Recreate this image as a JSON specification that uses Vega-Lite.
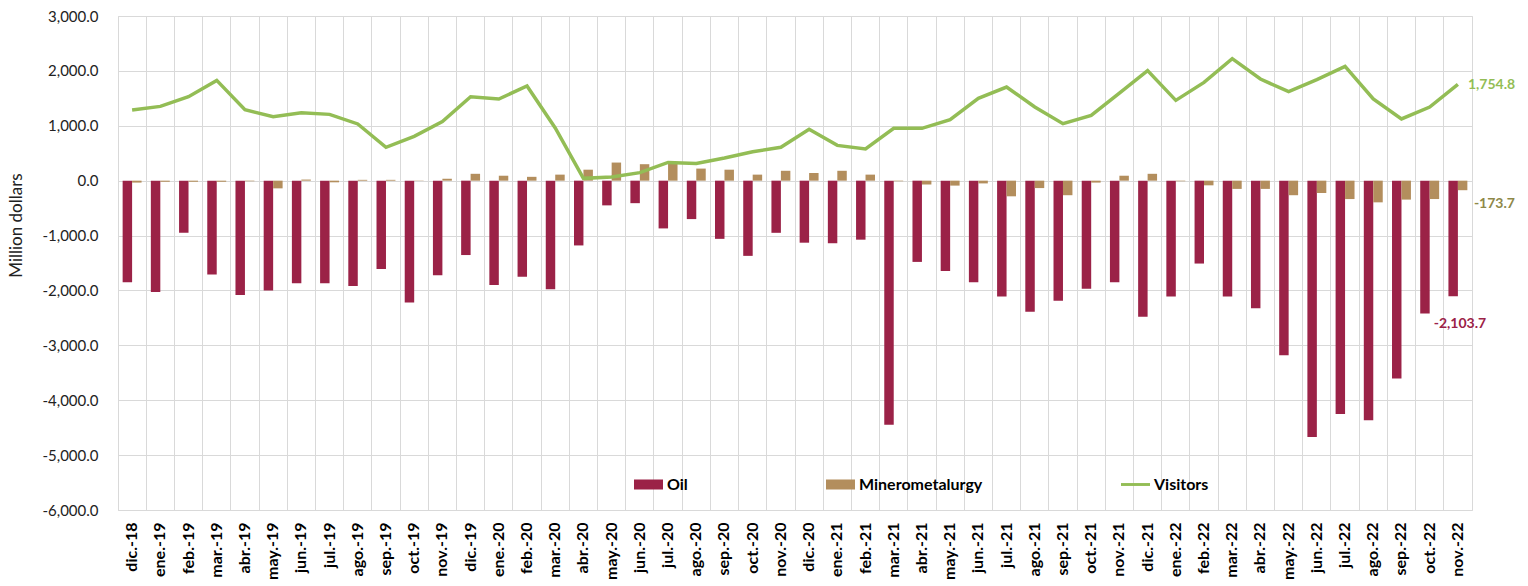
{
  "$schema": "https://vega.github.io/schema/vega-lite/v6.json",
  "autosize": {"type": "none"},
  "width": 1354,
  "height": 494,
  "padding": {"left": 118, "top": 16, "right": 56, "bottom": 76},
  "background": "white",
  "config": {
    "font": "Lato",
    "view": {"stroke": "#d9d9d9", "strokeWidth": 1},
    "locale": {"number": {"decimal": ".", "thousands": ",", "grouping": [3], "currency": ["$", ""], "minus": "-"}}
  },
  "data": {"values": [
    {"m":"dic.-18","s":"Oil","v":-1850},{"m":"ene.-19","s":"Oil","v":-2030},{"m":"feb.-19","s":"Oil","v":-950},{"m":"mar.-19","s":"Oil","v":-1710},{"m":"abr.-19","s":"Oil","v":-2085},{"m":"may.-19","s":"Oil","v":-2000},{"m":"jun.-19","s":"Oil","v":-1870},{"m":"jul.-19","s":"Oil","v":-1870},{"m":"ago.-19","s":"Oil","v":-1920},{"m":"sep.-19","s":"Oil","v":-1610},{"m":"oct.-19","s":"Oil","v":-2220},{"m":"nov.-19","s":"Oil","v":-1725},{"m":"dic.-19","s":"Oil","v":-1355},{"m":"ene.-20","s":"Oil","v":-1900},{"m":"feb.-20","s":"Oil","v":-1750},{"m":"mar.-20","s":"Oil","v":-1980},{"m":"abr.-20","s":"Oil","v":-1180},{"m":"may.-20","s":"Oil","v":-450},{"m":"jun.-20","s":"Oil","v":-410},{"m":"jul.-20","s":"Oil","v":-870},{"m":"ago.-20","s":"Oil","v":-700},{"m":"sep.-20","s":"Oil","v":-1060},{"m":"oct.-20","s":"Oil","v":-1370},{"m":"nov.-20","s":"Oil","v":-950},{"m":"dic.-20","s":"Oil","v":-1130},{"m":"ene.-21","s":"Oil","v":-1140},{"m":"feb.-21","s":"Oil","v":-1075},{"m":"mar.-21","s":"Oil","v":-4445},{"m":"abr.-21","s":"Oil","v":-1480},{"m":"may.-21","s":"Oil","v":-1645},{"m":"jun.-21","s":"Oil","v":-1850},{"m":"jul.-21","s":"Oil","v":-2110},{"m":"ago.-21","s":"Oil","v":-2390},{"m":"sep.-21","s":"Oil","v":-2190},{"m":"oct.-21","s":"Oil","v":-1970},{"m":"nov.-21","s":"Oil","v":-1850},{"m":"dic.-21","s":"Oil","v":-2480},{"m":"ene.-22","s":"Oil","v":-2110},{"m":"feb.-22","s":"Oil","v":-1510},{"m":"mar.-22","s":"Oil","v":-2110},{"m":"abr.-22","s":"Oil","v":-2325},{"m":"may.-22","s":"Oil","v":-3180},{"m":"jun.-22","s":"Oil","v":-4670},{"m":"jul.-22","s":"Oil","v":-4250},{"m":"ago.-22","s":"Oil","v":-4365},{"m":"sep.-22","s":"Oil","v":-3605},{"m":"oct.-22","s":"Oil","v":-2420},{"m":"nov.-22","s":"Oil","v":-2103.7},
    {"m":"dic.-18","s":"Minerometalurgy","v":-35},{"m":"ene.-19","s":"Minerometalurgy","v":-20},{"m":"feb.-19","s":"Minerometalurgy","v":-20},{"m":"mar.-19","s":"Minerometalurgy","v":-20},{"m":"abr.-19","s":"Minerometalurgy","v":-10},{"m":"may.-19","s":"Minerometalurgy","v":-140},{"m":"jun.-19","s":"Minerometalurgy","v":20},{"m":"jul.-19","s":"Minerometalurgy","v":-30},{"m":"ago.-19","s":"Minerometalurgy","v":15},{"m":"sep.-19","s":"Minerometalurgy","v":15},{"m":"oct.-19","s":"Minerometalurgy","v":5},{"m":"nov.-19","s":"Minerometalurgy","v":35},{"m":"dic.-19","s":"Minerometalurgy","v":125},{"m":"ene.-20","s":"Minerometalurgy","v":90},{"m":"feb.-20","s":"Minerometalurgy","v":70},{"m":"mar.-20","s":"Minerometalurgy","v":110},{"m":"abr.-20","s":"Minerometalurgy","v":200},{"m":"may.-20","s":"Minerometalurgy","v":330},{"m":"jun.-20","s":"Minerometalurgy","v":300},{"m":"jul.-20","s":"Minerometalurgy","v":340},{"m":"ago.-20","s":"Minerometalurgy","v":220},{"m":"sep.-20","s":"Minerometalurgy","v":200},{"m":"oct.-20","s":"Minerometalurgy","v":110},{"m":"nov.-20","s":"Minerometalurgy","v":180},{"m":"dic.-20","s":"Minerometalurgy","v":140},{"m":"ene.-21","s":"Minerometalurgy","v":180},{"m":"feb.-21","s":"Minerometalurgy","v":110},{"m":"mar.-21","s":"Minerometalurgy","v":-10},{"m":"abr.-21","s":"Minerometalurgy","v":-70},{"m":"may.-21","s":"Minerometalurgy","v":-90},{"m":"jun.-21","s":"Minerometalurgy","v":-50},{"m":"jul.-21","s":"Minerometalurgy","v":-285},{"m":"ago.-21","s":"Minerometalurgy","v":-135},{"m":"sep.-21","s":"Minerometalurgy","v":-265},{"m":"oct.-21","s":"Minerometalurgy","v":-35},{"m":"nov.-21","s":"Minerometalurgy","v":90},{"m":"dic.-21","s":"Minerometalurgy","v":125},{"m":"ene.-22","s":"Minerometalurgy","v":-10},{"m":"feb.-22","s":"Minerometalurgy","v":-85},{"m":"mar.-22","s":"Minerometalurgy","v":-150},{"m":"abr.-22","s":"Minerometalurgy","v":-150},{"m":"may.-22","s":"Minerometalurgy","v":-265},{"m":"jun.-22","s":"Minerometalurgy","v":-225},{"m":"jul.-22","s":"Minerometalurgy","v":-335},{"m":"ago.-22","s":"Minerometalurgy","v":-395},{"m":"sep.-22","s":"Minerometalurgy","v":-345},{"m":"oct.-22","s":"Minerometalurgy","v":-335},{"m":"nov.-22","s":"Minerometalurgy","v":-173.7},
    {"m":"dic.-18","s":"Visitors","v":1288},{"m":"ene.-19","s":"Visitors","v":1353},{"m":"feb.-19","s":"Visitors","v":1530},{"m":"mar.-19","s":"Visitors","v":1827},{"m":"abr.-19","s":"Visitors","v":1293},{"m":"may.-19","s":"Visitors","v":1166},{"m":"jun.-19","s":"Visitors","v":1239},{"m":"jul.-19","s":"Visitors","v":1208},{"m":"ago.-19","s":"Visitors","v":1033},{"m":"sep.-19","s":"Visitors","v":607},{"m":"oct.-19","s":"Visitors","v":807},{"m":"nov.-19","s":"Visitors","v":1075},{"m":"dic.-19","s":"Visitors","v":1530},{"m":"ene.-20","s":"Visitors","v":1488},{"m":"feb.-20","s":"Visitors","v":1725},{"m":"mar.-20","s":"Visitors","v":960},{"m":"abr.-20","s":"Visitors","v":42},{"m":"may.-20","s":"Visitors","v":67},{"m":"jun.-20","s":"Visitors","v":146},{"m":"jul.-20","s":"Visitors","v":333},{"m":"ago.-20","s":"Visitors","v":315},{"m":"sep.-20","s":"Visitors","v":413},{"m":"oct.-20","s":"Visitors","v":528},{"m":"nov.-20","s":"Visitors","v":607},{"m":"dic.-20","s":"Visitors","v":935},{"m":"ene.-21","s":"Visitors","v":643},{"m":"feb.-21","s":"Visitors","v":577},{"m":"mar.-21","s":"Visitors","v":953},{"m":"abr.-21","s":"Visitors","v":953},{"m":"may.-21","s":"Visitors","v":1111},{"m":"jun.-21","s":"Visitors","v":1500},{"m":"jul.-21","s":"Visitors","v":1706},{"m":"ago.-21","s":"Visitors","v":1342},{"m":"sep.-21","s":"Visitors","v":1038},{"m":"oct.-21","s":"Visitors","v":1190},{"m":"nov.-21","s":"Visitors","v":1597},{"m":"dic.-21","s":"Visitors","v":2004},{"m":"ene.-22","s":"Visitors","v":1463},{"m":"feb.-22","s":"Visitors","v":1791},{"m":"mar.-22","s":"Visitors","v":2222},{"m":"abr.-22","s":"Visitors","v":1852},{"m":"may.-22","s":"Visitors","v":1621},{"m":"jun.-22","s":"Visitors","v":1840},{"m":"jul.-22","s":"Visitors","v":2082},{"m":"ago.-22","s":"Visitors","v":1488},{"m":"sep.-22","s":"Visitors","v":1124},{"m":"oct.-22","s":"Visitors","v":1342},{"m":"nov.-22","s":"Visitors","v":1754.8}
  ]},
  "encoding": {
    "x": {
      "field": "m", "type": "nominal", "sort": null, "title": null,
      "scale": {"paddingInner": 0, "paddingOuter": 0},
      "axis": {
        "bandPosition": 0, "grid": true, "gridColor": "#d9d9d9", "gridWidth": 1,
        "ticks": false, "domain": false, "labelAngle": -90, "labelOffset": 0,
        "labelPadding": 12, "labelFontSize": 16, "labelFontWeight": "bold", "labelColor": "#000000",
        "labelFont": "Lato"
      }
    },
    "y": {
      "field": "v", "type": "quantitative",
      "scale": {"domain": [-6000, 3000], "nice": false, "zero": false},
      "axis": {
        "values": [-6000, -5000, -4000, -3000, -2000, -1000, 0, 1000, 2000, 3000],
        "format": ",.1f", "grid": true, "gridColor": "#d9d9d9", "gridWidth": 1,
        "ticks": false, "domain": false, "labelPadding": 20, "labelFontSize": 15,
        "labelColor": "#222222", "labelFont": "Lato",
        "title": "Million dollars", "titleFont": "Lato", "titleFontSize": 17, "titleFontWeight": "normal",
        "titleColor": "#222222", "titleAngle": -90, "titleX": -102, "titleY": 209,
        "titleAlign": "center", "titleBaseline": "middle"
      }
    }
  },
  "layer": [
    {
      "transform": [{"filter": "datum.s !== 'Visitors'"}],
      "mark": {"type": "bar"},
      "encoding": {
        "xOffset": {"field": "s", "type": "nominal", "scale": {"domain": ["Oil", "Minerometalurgy"], "paddingInner": 0, "paddingOuter": 0.49}},
        "color": {
          "field": "s", "type": "nominal",
          "scale": {"domain": ["Oil", "Minerometalurgy", "Visitors"], "range": ["#9B2247", "#B38E5D", "#93BD55"]},
          "legend": {
            "title": null, "orient": "none", "direction": "horizontal", "legendX": 516, "legendY": 454,
            "gridAlign": "none", "columnPadding": 138, "symbolSize": 841, "symbolStrokeWidth": 0,
            "labelFontSize": 16, "labelFontWeight": "bold", "labelColor": "#000000", "labelFont": "Lato", "labelOffset": 4,
            "encode": {
              "symbols": {
                "update": {
                  "shape": {"signal": "datum.value === 'Visitors' ? 'M-1,-0.1H1V0.1H-1Z' : 'M-1,-0.345H1V0.345H-1Z'"},
                  "fill": {"signal": "scale('color', datum.value)"},
                  "stroke": {"value": "transparent"},
                  "strokeWidth": {"value": 0},
                  "opacity": {"value": 1}
                }
              }
            }
          }
        }
      }
    },
    {
      "transform": [{"filter": "datum.s === 'Visitors'"}],
      "mark": {"type": "line", "strokeWidth": 3.5},
      "encoding": {
        "color": {"field": "s", "type": "nominal"}
      }
    },
    {
      "transform": [{"filter": "datum.s === 'Visitors' && datum.m === 'nov.-22'"}],
      "mark": {"type": "text", "align": "left", "baseline": "middle", "dx": 10, "dy": 1, "fontSize": 14, "fontWeight": "bold", "color": "#93BD55", "font": "Lato"},
      "encoding": {"text": {"field": "v", "type": "quantitative", "format": ",.1f"}}
    },
    {
      "transform": [{"filter": "datum.s === 'Minerometalurgy' && datum.m === 'nov.-22'"}],
      "mark": {"type": "text", "align": "left", "baseline": "middle", "dx": 16, "dy": 14, "fontSize": 14, "fontWeight": "bold", "color": "#8E8848", "font": "Lato"},
      "encoding": {"text": {"field": "v", "type": "quantitative", "format": ",.1f"}}
    },
    {
      "transform": [{"filter": "datum.s === 'Oil' && datum.m === 'nov.-22'"}],
      "mark": {"type": "text", "align": "center", "baseline": "middle", "dx": 2, "dy": 28, "fontSize": 14, "fontWeight": "bold", "color": "#9B2247", "font": "Lato"},
      "encoding": {"text": {"field": "v", "type": "quantitative", "format": ",.1f"}}
    }
  ]
}
